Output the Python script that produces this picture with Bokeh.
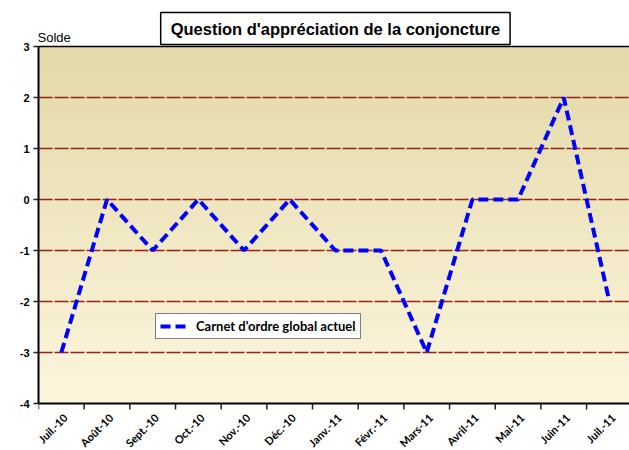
import numpy as np
from math import pi
from bokeh.plotting import figure
from bokeh.models import FixedTicker, Span, Label, Legend, LegendItem, Range1d
from bokeh.core.properties import value
from bokeh.embed import file_html
from bokeh.resources import INLINE

categories = ["Juil.-10", "Août-10", "Sept.-10", "Oct.-10", "Nov.-10", "Déc.-10",
              "Janv.-11", "Févr.-11", "Mars-11", "Avril-11", "Mai-11", "Juin-11", "Juil.-11"]
values = [-3, 0, -1, 0, -1, 0, -1, -1, -3, 0, 0, 2, -2]
y_ticks = [3, 2, 1, 0, -1, -2, -3, -4]
grid_ticks = [2, 1, 0, -1, -2, -3]
series_name = "Carnet d'ordre global actuel"
title_text = "Question d'appréciation de la conjoncture"
y_title = "Solde"

x = list(range(len(categories)))
boundaries = [i - 0.5 for i in range(len(categories) + 1)]
y_min, y_max = min(y_ticks), max(y_ticks)
px_per_unit = 51.0
x_start, x_end = -0.5, 12.44
y_top = y_max + 46 / px_per_unit      # room above the plot area for the titles
y_bottom = y_min - 47 / px_per_unit   # room below the plot area for category labels

p = figure(width=629, height=450, output_backend="svg", toolbar_location=None,
           x_range=Range1d(x_start, x_end), y_range=Range1d(y_bottom, y_top),
           x_axis_location=None,
           min_border_left=38, min_border_right=0, min_border_top=0, min_border_bottom=0)
p.outline_line_color = None
p.background_fill_color = "white"
p.border_fill_color = "white"

# gradient background of the plot area
N = 200
t = np.linspace(0, 1, N)[:, None]
bottom = np.array([0xFD, 0xF6, 0xDE])
top = np.array([0xE4, 0xD9, 0xA8])
img = np.empty((N, 2), dtype=np.uint32)
view = img.view(dtype=np.uint8).reshape((N, 2, 4))
for k in range(3):
    view[:, :, k] = (bottom[k] + (top[k] - bottom[k]) * t).astype(np.uint8)
view[:, :, 3] = 255
p.image_rgba(image=[img], x=x_start, y=y_min, dw=x_end - x_start, dh=y_max - y_min, level="image")

# grid
p.xgrid.visible = False
p.ygrid.ticker = FixedTicker(ticks=grid_ticks)
p.ygrid.grid_line_color = "#992211"
p.ygrid.grid_line_width = 1.5
p.ygrid.grid_line_dash = "14 2"

# top border of plot area and category axis line
p.add_layout(Span(location=y_max, dimension="width", line_color="black", line_width=1.5))
p.add_layout(Span(location=y_min, dimension="width", line_color="black", line_width=2))

# category tick marks (between categories) and labels
tick_len = 6 / px_per_unit
p.segment(x0=boundaries, y0=[y_min] * len(boundaries), x1=boundaries,
          y1=[y_min - tick_len] * len(boundaries), line_color="#222222", line_width=1.5)
p.text(x=x, y=[y_min] * len(x), text=categories, angle=pi / 4,
       text_align="right", text_baseline="middle", x_offset=4, y_offset=12,
       text_font=value("Lato"), text_font_style="bold", text_font_size="11px",
       text_color="black")

# series
r = p.line(x, values, line_color="#0000FF", line_width=4, line_dash="10 5")

# y axis
ya = p.yaxis[0]
ya.ticker = FixedTicker(ticks=y_ticks)
ya.bounds = (y_min, y_max)
ya.major_label_overrides = {v: str(v) for v in y_ticks}
ya.axis_line_color = "black"
ya.axis_line_width = 2
ya.major_tick_line_color = "#222222"
ya.major_tick_line_width = 1.5
ya.major_tick_out = 5
ya.major_tick_in = 0
ya.minor_tick_line_color = None
ya.major_label_standoff = 4
ya.major_label_text_font = "Liberation Sans"
ya.major_label_text_font_style = "bold"
ya.major_label_text_font_size = "11px"
ya.major_label_text_color = "black"

# y title
p.add_layout(Label(x=x_start, y=y_max, text=y_title, text_font="Liberation Sans",
                   text_font_size="13px", text_baseline="bottom", text_align="left",
                   x_offset=-1, y_offset=2, text_color="black"))

# chart title box
p.add_layout(Label(x=6, y=y_max, text=title_text, text_font="Liberation Sans",
                   text_font_style="bold", text_font_size="16.5px", text_align="center",
                   text_baseline="middle", y_offset=18, text_color="black",
                   background_fill_color="white", border_line_color="black",
                   border_line_width=1.5,
                   padding=dict(left=10, right=10, top=7, bottom=7)))

legend = Legend(items=[LegendItem(label=series_name, renderers=[r])],
                location=(117, 64 + 47), orientation="vertical",
                border_line_color="black", border_line_width=1.2,
                background_fill_color="white", background_fill_alpha=1,
                label_text_font="Lato", label_text_font_style="bold",
                label_text_font_size="13px", label_text_color="black",
                glyph_width=30, glyph_height=12, label_standoff=6,
                padding=4, margin=0, spacing=0, label_height=12)
p.add_layout(legend)

open("out.html", "w").write(file_html(p, INLINE))
